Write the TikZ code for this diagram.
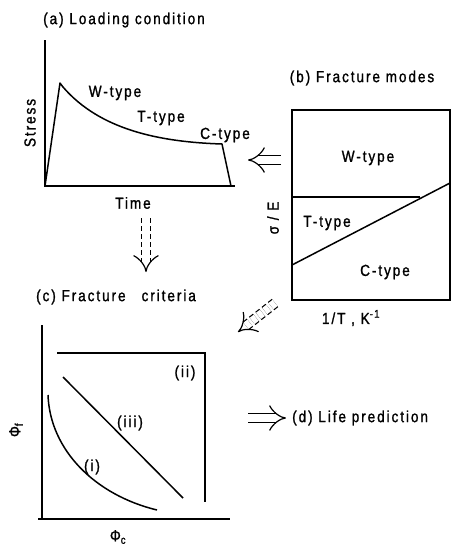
\documentclass[tikz,border=0pt]{standalone}
\usepackage{fontspec}
\setmainfont{Liberation Sans}[FakeStretch=0.85, FakeBold=1.2, LetterSpace=12]
\usetikzlibrary{arrows.meta}
\begin{document}
\begin{tikzpicture}[x=1pt,y=-1pt,
  ax/.style={line width=1.8pt},
  crv/.style={line width=1.5pt},
  lbl/.style={font=\fontsize{16}{18}\selectfont, inner sep=0pt},
  hollow/.style={double, double distance=8pt, line width=1.2pt, -{Implies}},
  dhollow/.style={hollow, dash pattern=on 5pt off 3pt}]
\useasboundingbox (0,0) rectangle (456,550);
% ---------- (a) loading condition
\node[lbl] (tA) at (124,20) {(a) Loading condition};
\coordinate (aTop) at (45,40);
\coordinate (aO) at (45,186);
\coordinate (aEnd) at (235,186);
\draw[ax] (aTop) -- (aO) -- (aEnd);
\coordinate (aPeak) at (60,83);
\coordinate (aK) at (63,87);
\coordinate (aC) at (222,144);
\coordinate (aD) at (231,186);
\draw[crv, line join=round] (aO) -- (aPeak) -- (aK) .. controls (100,130) and (160,142) .. (aC) -- (aD);
\node[lbl, rotate=90] (stress) at (30,123) {Stress};
\node[lbl] (wA) at (115,93) {W-type};
\node[lbl] (tTA) at (161,118) {T-type};
\node[lbl, anchor=west] (cA) at (200,135) {C-type};
\node[lbl] (time) at (133,203) {Time};
% ---------- (b) fracture modes
\node[lbl] (tB) at (362,78) {(b) Fracture modes};
\coordinate (bNW) at (292,110);
\coordinate (bSE) at (450,300);
\draw[ax] (bNW) rectangle (bSE);
\coordinate (bH1) at (292,197);
\coordinate (bH2) at (420,197);
\coordinate (bS1) at (292,265);
\coordinate (bS2) at (450,183);
\draw[crv] (bH1) -- (bH2);
\draw[crv] (bS1) -- (bS2);
\node[lbl] (wB) at (368,158) {W-type};
\node[lbl] (tTB) at (327,223) {T-type};
\node[lbl] (cB) at (385,272) {C-type};
\node[lbl, rotate=90] (se) at (273,218) {σ / E};
\node[lbl] (invT) at (351,318) {1/T , K\textsuperscript{-1}};
% ---------- (c) fracture criteria
\node[lbl] (tC) at (116,297) {(c) Fracture\quad criteria};
\coordinate (cTop) at (42,325);
\coordinate (cO) at (42,519);
\coordinate (cEnd) at (230,519);
\draw[ax] (cTop) -- (cO);
\draw[ax] (38,519) -- (cEnd);
\coordinate (c2a) at (57,353);
\coordinate (c2b) at (205,353);
\coordinate (c2c) at (205,502);
\draw[crv] (c2a) -- (c2b) -- (c2c);
\node[lbl] (ii) at (185,373) {(ii)};
\coordinate (c3a) at (63,377);
\coordinate (c3b) at (183,498);
\draw[crv] (c3a) -- (c3b);
\node[lbl] (iii) at (130,423) {(iii)};
\coordinate (c1a) at (48,395);
\coordinate (c1b) at (157,510);
\draw[crv] (c1a) .. controls (50,450) and (95,495) .. (c1b);
\node[lbl] (i) at (92,467) {(i)};
\node[lbl, rotate=90] (phif) at (16,430) {Φ\textsubscript{f}};
\node[lbl] (phic) at (118,537) {Φ\textsubscript{c}};
% ---------- (d) life prediction
\node[lbl, anchor=west] (tD) at (292,418) {(d) Life prediction};
% ---------- connectors
\coordinate (abR) at (281,160);
\coordinate (abL) at (248,160);
\draw[hollow] (abR) -- (abL);
\coordinate (dT) at (146,218);
\coordinate (dB) at (146,272);
\draw[dhollow] (dT) -- (dB);
\coordinate (gT) at (275,303);
\coordinate (gB) at (238,332);
\draw[dhollow] (gT) -- (gB);
\coordinate (eL) at (248,418);
\draw[hollow] (eL) -- ([xshift=-6pt]tD.west);
\end{tikzpicture}
\end{document}
